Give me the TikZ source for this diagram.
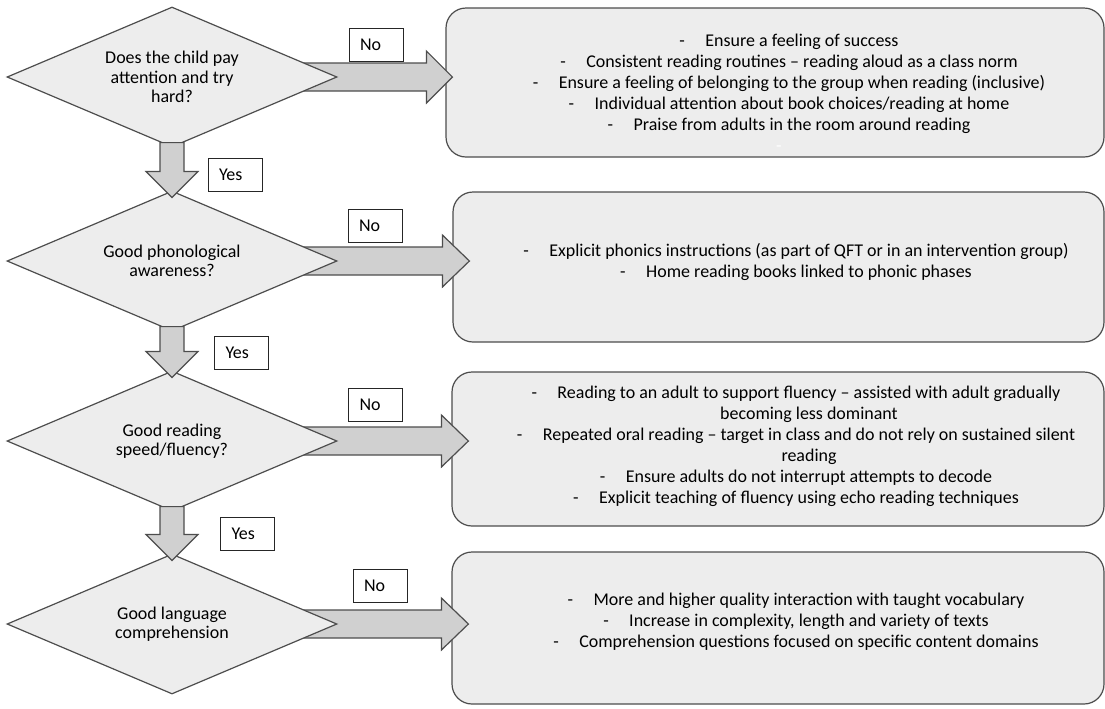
\documentclass[tikz,border=0pt]{standalone}
\usepackage{fontspec}
\setmainfont{Carlito}
\usetikzlibrary{calc,shapes.geometric}
\pgfdeclarelayer{bottom}
\pgfdeclarelayer{back}
\pgfdeclarelayer{mid}
\pgfsetlayers{bottom,back,mid,main}
\definecolor{shapefill}{HTML}{EDEDED}
\definecolor{arrowfill}{HTML}{D0D0D0}
\definecolor{edgegray}{HTML}{4D4D4D}
\newlength\reflen
\newcommand\itm[1]{\makebox[19.5pt][l]{-}#1}
\newcommand\cnt[1]{\hspace*{19.5pt}#1}
% horizontal block arrow: #1 diamond, #2 box, #3 head base offset, #4 tip offset
\newcommand\harrow[4]{%
  \draw[blockarrow] let \p1=(#1.east), \p2=(#2.west) in
    (\x1-30pt,\y1+10.5pt) -- (\x2#3,\y1+10.5pt) -- (\x2#3,\y1+19.5pt) --
    (\x2#4,\y1) -- (\x2#3,\y1-19.5pt) -- (\x2#3,\y1-10.5pt) --
    (\x1-30pt,\y1-10.5pt) -- cycle;}
% vertical block arrow: #1 upper diamond, #2 lower diamond
\newcommand\varrow[2]{%
  \draw[blockarrow] let \p1=(#1.south), \p2=(#2.north) in
    (\x1-9pt,\y1+3.75pt) -- (\x1+9pt,\y1+3.75pt) -- (\x1+9pt,\y2+14.25pt) --
    (\x1+19.5pt,\y2+14.25pt) -- (\x1,\y2-5.25pt) -- (\x1-19.5pt,\y2+14.25pt) --
    (\x1-9pt,\y2+14.25pt) -- cycle;}

\begin{document}
\settowidth\reflen{\normalfont\fontsize{10pt}{12pt}\selectfont Reading to an adult to support fluency – assisted with adult gradually}%
\pgfmathsetmacro\fsz{10*377.25/\reflen}%
\begin{tikzpicture}[x=0.75pt,y=-0.75pt]
\tikzset{
  boxfont/.style={font=\fontsize{\fsz pt}{15.75pt}\selectfont},
  diafont/.style={font=\fontsize{\fsz pt}{14.6pt}\selectfont},
  rbox/.style={draw=edgegray, line width=0.9pt, fill=shapefill, rounded corners=15pt, inner sep=0pt},
  dia/.style={diamond, aspect=2.357, draw=edgegray, line width=0.9pt, fill=shapefill,
    minimum width=330*0.75pt, minimum height=140*0.75pt, inner sep=0pt, align=center, diafont},
  blockarrow/.style={draw=edgegray, line width=0.9pt, fill=arrowfill, line join=miter},
  lab/.style={draw=black!85, line width=0.75pt, fill=white, text width=24pt,
    inner xsep=8.25pt, inner ysep=0pt, minimum height=25pt, align=left, boxfont},
  btext/.style={inner sep=0pt, align=center, boxfont},
}
\useasboundingbox (0,0) rectangle (1105,708);
\begin{pgfonlayer}{bottom}
\fill[white] (0,0) rectangle (1105,708);
\end{pgfonlayer}

% right-hand boxes
\begin{pgfonlayer}{back}
\node[rbox, minimum width=658*0.75pt, minimum height=149*0.75pt] (b1) at (775,82.5) {};
\node[rbox, minimum width=651*0.75pt, minimum height=150*0.75pt] (b2) at (778.5,267) {};
\node[rbox, minimum width=652*0.75pt, minimum height=154*0.75pt] (b3) at (778,449) {};
\node[rbox, minimum width=652*0.75pt, minimum height=152*0.75pt] (b4) at (778,628) {};
\end{pgfonlayer}

\node[btext] (t1) at (789,92.5) {%
\itm{Ensure a feeling of success}\\
\itm{Consistent reading routines – reading aloud as a class norm}\\
\itm{Ensure a feeling of belonging to the group when reading (inclusive)}\\
\itm{Individual attention about book choices/reading at home}\\
\itm{Praise from adults in the room around reading}\\
\makebox[19.5pt][l]{\textcolor{white}{-}}};

\node[btext] (t2) at (796,262) {%
\itm{Explicit phonics instructions (as part of QFT or in an intervention group)}\\
\itm{Home reading books linked to phonic phases}};

\node[btext] (t3) at (796,446.5) {%
\itm{Reading to an adult to support fluency – assisted with adult gradually}\\
\cnt{becoming less dominant}\\
\itm{Repeated oral reading – target in class and do not rely on sustained silent}\\
\cnt{reading}\\
\itm{Ensure adults do not interrupt attempts to decode}\\
\itm{Explicit teaching of fluency using echo reading techniques}};

\node[btext] (t4) at (796,621.5) {%
\itm{More and higher quality interaction with taught vocabulary}\\
\itm{Increase in complexity, length and variety of texts}\\
\itm{Comprehension questions focused on specific content domains}};

% decision diamonds
\node[dia] (d1) at (172,77) {Does the child pay\\attention and try\\hard?};
\node[dia] (d2) at (172,261) {Good phonological\\awareness?};
\node[dia] (d3) at (172,441) {Good reading\\speed/fluency?};
\node[dia] (d4) at (172,624) {Good language\\comprehension};

% "No" arrows (under the diamonds, over the boxes)
\begin{pgfonlayer}{mid}
\harrow{d1}{b1}{-14.25pt}{+5.25pt}
\harrow{d2}{b2}{-7.5pt}{+12.75pt}
\harrow{d3}{b3}{-7.5pt}{+12.75pt}
\harrow{d4}{b4}{-7.5pt}{+12.75pt}
\end{pgfonlayer}

% "Yes" arrows
\varrow{d1}{d2}
\varrow{d2}{d3}
\varrow{d3}{d4}

% labels
\node[lab] (no1) at (376,45) {No};
\node[lab] (no2) at (375,226) {No};
\node[lab] (no3) at (375.5,405) {No};
\node[lab] (no4) at (380,586) {No};
\node[lab] (yes1) at (235,175) {Yes};
\node[lab] (yes2) at (241.5,353) {Yes};
\node[lab] (yes3) at (247.5,534) {Yes};
\end{tikzpicture}
\end{document}
